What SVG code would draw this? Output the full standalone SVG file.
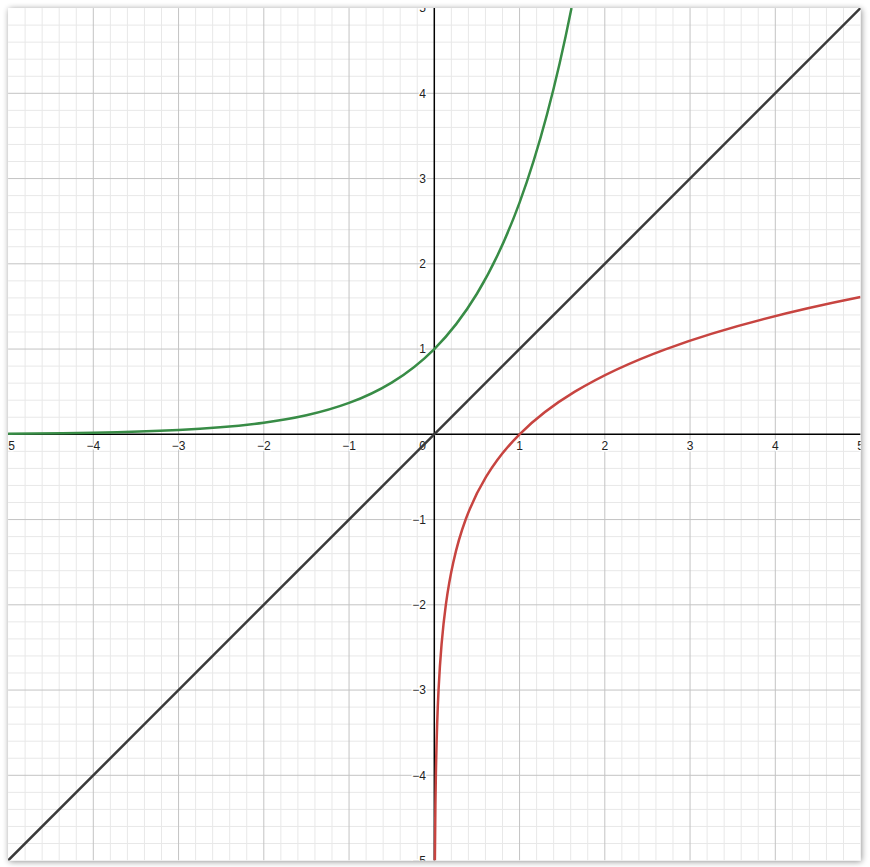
<svg xmlns="http://www.w3.org/2000/svg" width="870" height="867" viewBox="0 0 870 867">
<style>
.minor{fill:none;stroke:#e8e8e8;stroke-width:1}
.major{fill:none;stroke:#c4c4c4;stroke-width:1}
.axis{fill:none;stroke:#000;stroke-width:1.5}
.curve{fill:none;stroke-width:2.5;stroke-linejoin:round}
.ns{vector-effect:non-scaling-stroke}
.lbl{font-family:"Liberation Sans",Arial,sans-serif;font-size:12px;fill:#222;stroke:#fff;stroke-width:3;paint-order:stroke;stroke-linejoin:round}
.xl{text-anchor:middle}
.yl{text-anchor:end}
</style>
<defs>
<filter id="sh" x="-5%" y="-5%" width="110%" height="110%">
<feGaussianBlur in="SourceAlpha" stdDeviation="3"/>
<feOffset dx="1" dy="1" result="b"/>
<feComponentTransfer><feFuncA type="linear" slope="0.45"/></feComponentTransfer>
<feMerge><feMergeNode/><feMergeNode in="SourceGraphic"/></feMerge>
</filter>
<clipPath id="plot"><rect x="8.05" y="8.05" width="852.5" height="852.5"/></clipPath>
</defs>
<rect width="870" height="867" fill="#fff"/>
<rect id="frame" x="8.05" y="8.05" width="852.5" height="852.5" fill="#fff" filter="url(#sh)"/>
<g clip-path="url(#plot)">
<g id="grid" transform="matrix(85.25,0,0,-85.25,434.3,434.3)">
<path class="minor ns" d="M-4.8-5V5M-4.6-5V5M-4.4-5V5M-4.2-5V5M-3.8-5V5M-3.6-5V5M-3.4-5V5M-3.2-5V5M-2.8-5V5M-2.6-5V5M-2.4-5V5M-2.2-5V5M-1.8-5V5M-1.6-5V5M-1.4-5V5M-1.2-5V5M-0.8-5V5M-0.6-5V5M-0.4-5V5M-0.2-5V5M0.2-5V5M0.4-5V5M0.6-5V5M0.8-5V5M1.2-5V5M1.4-5V5M1.6-5V5M1.8-5V5M2.2-5V5M2.4-5V5M2.6-5V5M2.8-5V5M3.2-5V5M3.4-5V5M3.6-5V5M3.8-5V5M4.2-5V5M4.4-5V5M4.6-5V5M4.8-5V5
M-5-4.8H5M-5-4.6H5M-5-4.4H5M-5-4.2H5M-5-3.8H5M-5-3.6H5M-5-3.4H5M-5-3.2H5M-5-2.8H5M-5-2.6H5M-5-2.4H5M-5-2.2H5M-5-1.8H5M-5-1.6H5M-5-1.4H5M-5-1.2H5M-5-0.8H5M-5-0.6H5M-5-0.4H5M-5-0.2H5M-5 0.2H5M-5 0.4H5M-5 0.6H5M-5 0.8H5M-5 1.2H5M-5 1.4H5M-5 1.6H5M-5 1.8H5M-5 2.2H5M-5 2.4H5M-5 2.6H5M-5 2.8H5M-5 3.2H5M-5 3.4H5M-5 3.6H5M-5 3.8H5M-5 4.2H5M-5 4.4H5M-5 4.6H5M-5 4.8H5"/>
<path class="major ns" d="M-4-5V5M-3-5V5M-2-5V5M-1-5V5M1-5V5M2-5V5M3-5V5M4-5V5M-5-4H5M-5-3H5M-5-2H5M-5-1H5M-5 1H5M-5 2H5M-5 3H5M-5 4H5"/>
<path id="axes" class="axis ns" d="M-5 0H5M0-5V5"/>
</g>
<g id="labels">
<text class="lbl xl" x="8.05" y="450">−5</text>
<text class="lbl xl" x="93.3" y="450">−4</text>
<text class="lbl xl" x="178.55" y="450">−3</text>
<text class="lbl xl" x="263.8" y="450">−2</text>
<text class="lbl xl" x="349.05" y="450">−1</text>
<text class="lbl yl" x="426" y="450">0</text>
<text class="lbl xl" x="519.55" y="450">1</text>
<text class="lbl xl" x="604.8" y="450">2</text>
<text class="lbl xl" x="690.05" y="450">3</text>
<text class="lbl xl" x="775.3" y="450">4</text>
<text class="lbl xl" x="860.55" y="450">5</text>
<text class="lbl yl" x="426" y="12.35">5</text>
<text class="lbl yl" x="426" y="97.6">4</text>
<text class="lbl yl" x="426" y="182.85">3</text>
<text class="lbl yl" x="426" y="268.1">2</text>
<text class="lbl yl" x="426" y="353.35">1</text>
<text class="lbl yl" x="426" y="523.85">−1</text>
<text class="lbl yl" x="426" y="609.1">−2</text>
<text class="lbl yl" x="426" y="694.35">−3</text>
<text class="lbl yl" x="426" y="779.6">−4</text>
<text class="lbl yl" x="426" y="864.85">−5</text>
</g>
<g id="curves" transform="matrix(85.25,0,0,-85.25,434.3,434.3)">
<path id="exp" class="curve ns" stroke="#388c46" d="M-5,0.006738 C-4.6667,0.008984 -4.3333,0.012211 -4,0.018316 C-3.6667,0.024421 -3.3333,0.033191 -3,0.049787 C-2.6667,0.066383 -2.3333,0.090223 -2,0.135335 C-1.8333,0.157891 -1.6667,0.185942 -1.5,0.22313 C-1.3333,0.260318 -1.1667,0.306566 -1,0.367879 C-0.8333,0.429192 -0.6667,0.505443 -0.5,0.606531 C-0.3333,0.70762 -0.1667,0.833333 0,1 C0.1667,1.166667 0.3333,1.373934 0.5,1.648721 C0.6667,1.923508 0.8333,2.265235 1,2.718282 C1.203146,3.27049 1.406292,3.984271 1.609438,5"/>
<path id="ln" class="curve ns" stroke="#c74440" d="M0.006738,-5 C0.008984,-4.6667 0.012211,-4.3333 0.018316,-4 C0.024421,-3.6667 0.033191,-3.3333 0.049787,-3 C0.066383,-2.6667 0.090223,-2.3333 0.135335,-2 C0.157891,-1.8333 0.185942,-1.6667 0.22313,-1.5 C0.260318,-1.3333 0.306566,-1.1667 0.367879,-1 C0.429192,-0.8333 0.505443,-0.6667 0.606531,-0.5 C0.70762,-0.3333 0.833333,-0.1667 1,0 C1.166667,0.1667 1.373934,0.3333 1.648721,0.5 C1.923508,0.6667 2.265235,0.8333 2.718282,1 C3.27049,1.203146 3.984271,1.406292 5,1.609438"/>
<path id="identity" class="curve ns" stroke="#3a3a3a" d="M-5.1-5.1L5.1 5.1"/>
</g>
</g>
</svg>
